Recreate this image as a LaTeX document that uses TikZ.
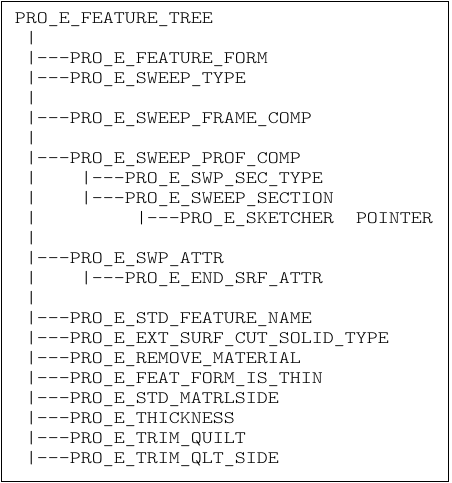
\documentclass[tikz,border=0pt]{standalone}
\usepackage{fontspec}
\newfontfamily\treemono[FakeStretch=1.197]{Latin Modern Mono Light}
\begin{document}
\begin{tikzpicture}[x=1pt,y=-1pt,
  tl/.style={anchor=base west,inner sep=0pt,outer sep=0pt,font=\fontsize{17.5}{20}\treemono,text=black}]
\useasboundingbox (0,0) rectangle (451,483);
\fill[white] (0,0) rectangle (451,483);
\draw[line width=1.5pt,black] (1.5,1.5) rectangle (448.7,481.3);
% columns: x = 15 + 11*c ; baselines: y = 23 + 20*k
\node[tl] (root) at (15,23) {PRO\_E\_FEATURE\_TREE};
\node[tl] (b1) at (26,43) {|};
\node[tl] (l2) at (26,63) {|---PRO\_E\_FEATURE\_FORM};
\node[tl] (l3) at (26,83) {|---PRO\_E\_SWEEP\_TYPE};
\node[tl] (b4) at (26,103) {|};
\node[tl] (l5) at (26,123) {|---PRO\_E\_SWEEP\_FRAME\_COMP};
\node[tl] (b6) at (26,143) {|};
\node[tl] (l7) at (26,163) {|---PRO\_E\_SWEEP\_PROF\_COMP};
\node[tl] (b8) at (26,183) {|};
\node[tl] (l8) at (81,183) {|---PRO\_E\_SWP\_SEC\_TYPE};
\node[tl] (b9) at (26,203) {|};
\node[tl] (l9) at (81,203) {|---PRO\_E\_SWEEP\_SECTION};
\node[tl] (b10) at (26,223) {|};
\node[tl] (l10) at (136,223) {|---PRO\_E\_SKETCHER};
\node[tl] (l10b) at (356,223) {POINTER};
\node[tl] (b11) at (26,243) {|};
\node[tl] (l12) at (26,263) {|---PRO\_E\_SWP\_ATTR};
\node[tl] (b13) at (26,283) {|};
\node[tl] (l13) at (81,283) {|---PRO\_E\_END\_SRF\_ATTR};
\node[tl] (b14) at (26,303) {|};
\node[tl] (l15) at (26,323) {|---PRO\_E\_STD\_FEATURE\_NAME};
\node[tl] (l16) at (26,343) {|---PRO\_E\_EXT\_SURF\_CUT\_SOLID\_TYPE};
\node[tl] (l17) at (26,363) {|---PRO\_E\_REMOVE\_MATERIAL};
\node[tl] (l18) at (26,383) {|---PRO\_E\_FEAT\_FORM\_IS\_THIN};
\node[tl] (l19) at (26,403) {|---PRO\_E\_STD\_MATRLSIDE};
\node[tl] (l20) at (26,423) {|---PRO\_E\_THICKNESS};
\node[tl] (l21) at (26,443) {|---PRO\_E\_TRIM\_QUILT};
\node[tl] (l22) at (26,463) {|---PRO\_E\_TRIM\_QLT\_SIDE};
\end{tikzpicture}
\end{document}
